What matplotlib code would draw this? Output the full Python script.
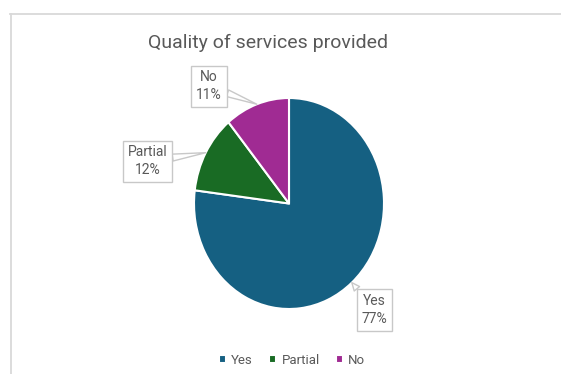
import numpy as np
import matplotlib.pyplot as plt
from matplotlib.lines import Line2D

categories = ["Yes", "Partial", "No"]
shares = [77, 12, 11]
colors = ["#156082", "#196B24", "#A02B93"]

# where each callout box sits, in pie data units
label_pos = [(0.90, -1.01), (-1.49, 0.40), (-0.84, 1.11)]

plt.rcParams['font.family'] = ['Roboto', 'DejaVu Sans']
text_color = "#595959"
W, H = 561, 374

fig = plt.figure(figsize=(W / 100, H / 100), dpi=100)

# chart area frame (only top and left edges show)
fig.add_artist(Line2D([10 / W, 1], [1 - 13.5 / H] * 2, color="#D9D9D9", lw=1.3))
fig.add_artist(Line2D([10.5 / W] * 2, [0, 1 - 13.5 / H], color="#D9D9D9", lw=1.3))

ax = fig.add_axes([194 / W, 1 - 309 / H, 190 / W, 211 / H])
wedges, _ = ax.pie(shares, colors=colors, startangle=90, counterclock=False,
                   radius=1, wedgeprops=dict(edgecolor="white", linewidth=1.5))
ax.set_aspect("auto")
ax.set_xlim(-1, 1)
ax.set_ylim(-1, 1)

for w, cat, v, pos in zip(wedges, categories, shares, label_pos):
    mid = np.deg2rad((w.theta1 + w.theta2) / 2)
    ax.annotate(f"{cat}\n{v}%", xy=(np.cos(mid), np.sin(mid)), xytext=pos,
                ha="center", va="center", fontsize=10, color=text_color,
                linespacing=1.35, annotation_clip=False,
                bbox=dict(boxstyle="square,pad=0.35", fc="white", ec="#C8C8C8", lw=1),
                arrowprops=dict(arrowstyle="wedge,tail_width=0.5", fc="white",
                                ec="#C8C8C8", lw=1, shrinkA=0, shrinkB=0))

fig.text(268.5 / W, 1 - 43 / H, "Quality of services provided", ha="center",
         va="center", fontsize=14, color=text_color)

fig.legend(wedges, categories, loc="center", bbox_to_anchor=(292 / W, 1 - 360 / H),
           ncol=3, frameon=False, fontsize=9.5, labelcolor=text_color,
           handlelength=0.55, handleheight=0.55, handletextpad=0.4, columnspacing=1.2)

fig.savefig("out.png", dpi=100)
